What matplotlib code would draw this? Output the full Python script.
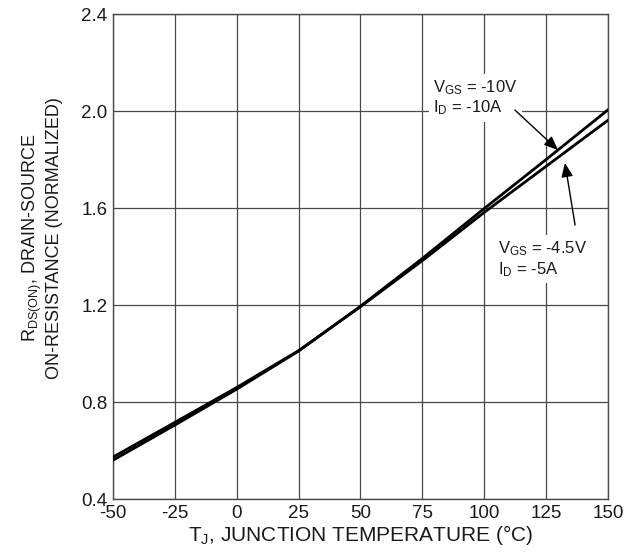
import matplotlib
matplotlib.use("Agg")
import matplotlib.pyplot as plt

plt.rcParams['font.family'] = ['Liberation Sans', 'DejaVu Sans']
plt.rcParams['mathtext.default'] = 'regular'

# junction temperature (deg C) and normalized on-resistance
temps = [-50, -25, 0, 25, 50, 75, 100, 125, 150]
r_vgs_10 = [0.560, 0.705, 0.853, 1.010, 1.195, 1.392, 1.598, 1.800, 2.005]
r_vgs_45 = [0.573, 0.716, 0.860, 1.012, 1.193, 1.383, 1.582, 1.772, 1.962]

x_ticks = [-50, -25, 0, 25, 50, 75, 100, 125, 150]
y_ticks = [0.4, 0.8, 1.2, 1.6, 2.0, 2.4]

label_10 = 'V$_{GS}$ = -10V\nI$_D$ = -10A'
label_45 = 'V$_{GS}$ = -4.5V\nI$_D$ = -5A'

fig = plt.figure(figsize=(6.33, 5.52), dpi=100)
ax = fig.add_axes([0.1785, 0.096, 0.782, 0.8786])

grid_col = '#4a4a4a'
txt_col = '#1a1a1a'
ax.set_xlim(-50, 150)
ax.set_ylim(0.4, 2.4)
ax.set_xticks(x_ticks)
ax.set_yticks(y_ticks)
ax.set_xticklabels([str(t) for t in x_ticks])
ax.set_yticklabels([f"{t:.1f}" for t in y_ticks])
ax.grid(True, color=grid_col, lw=0.9, zorder=0)
ax.tick_params(length=0, labelsize=13.5, colors=txt_col, pad=4)
for s in ax.spines.values():
    s.set_color(grid_col)
    s.set_linewidth(1.0)

ax.plot(temps, r_vgs_10, color='black', lw=2.0, zorder=3)
ax.plot(temps, r_vgs_45, color='black', lw=2.0, zorder=3)

box = dict(facecolor='white', edgecolor='none', pad=3)
ax.text(79.3, 2.055, label_10, fontsize=12, color=txt_col,
        ha='left', va='center', linespacing=1.15, bbox=box, zorder=4)
ax.text(105.6, 1.39, label_45, fontsize=12, color=txt_col,
        ha='left', va='center', linespacing=1.15, bbox=box, zorder=4)

arrow = dict(arrowstyle='-|>,head_length=0.6,head_width=0.25', color='black',
             lw=1.0, mutation_scale=14, shrinkA=0, shrinkB=0)
ax.annotate('', xy=(129.8, 1.839), xytext=(112.4, 2.004), arrowprops=arrow, zorder=5)
ax.annotate('', xy=(132.6, 1.786), xytext=(136.7, 1.53), arrowprops=arrow, zorder=5)

ax.set_xlabel('T$_J$, JUNCTION TEMPERATURE (\u00b0C)', fontsize=15,
              color=txt_col, labelpad=1)
fig.text(0.066, 1 - 238 / 552,
         'R$_{DS(ON)}$, DRAIN-SOURCE\nON-RESISTANCE (NORMALIZED)',
         rotation=90, ha='center', va='center', fontsize=13,
         color=txt_col, multialignment='center', linespacing=1.15)

fig.savefig('out.png', dpi=100)
